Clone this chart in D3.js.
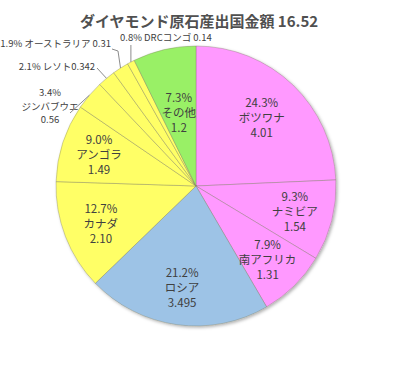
<!DOCTYPE html>
<html>
<head>
<meta charset="utf-8">
<script src="https://cdn.jsdelivr.net/npm/d3@7"></script>
<style>
  body { margin: 0; background: #fff; }
  text { font-family: "Noto Sans CJK JP", "Noto Sans", sans-serif; fill: #404040; }
</style>
</head>
<body>
<div id="chart"></div>
<script>
// data (clockwise from 12 o'clock)
var names  = ["ボツワナ", "ナミビア", "南アフリカ", "ロシア", "カナダ", "アンゴラ",
              "ジンバブウエ", "レソト", "オーストラリア", "DRCコンゴ", "その他"];
var values = [4.01, 1.54, 1.31, 3.495, 2.10, 1.49, 0.56, 0.342, 0.31, 0.14, 1.2];
var valueLabels = ["4.01", "1.54", "1.31", "3.495", "2.10", "1.49", "0.56", "0.342", "0.31", "0.14", "1.2"];
var colors = ["#ff99ff", "#ff99ff", "#ff99ff", "#9dc3e6", "#ffff66", "#ffff66",
              "#ffff66", "#ffff66", "#ffff66", "#ffff66", "#99f066"];
var title = "ダイヤモンド原石産出国金額 16.52";

var width = 398, height = 384;
var cx = 196, cy = 186, R = 140;

var svg = d3.select("#chart").append("svg")
    .attr("width", width)
    .attr("height", height);

var defs = svg.append("defs");
var f = defs.append("filter").attr("id", "shadow")
    .attr("x", "-10%").attr("y", "-10%").attr("width", "120%").attr("height", "120%");
f.append("feDropShadow").attr("dx", 1.5).attr("dy", 1.5).attr("stdDeviation", 1.5)
    .attr("flood-color", "#000").attr("flood-opacity", 0.3);

svg.append("text")
    .attr("x", 199)
    .attr("y", 27)
    .attr("text-anchor", "middle")
    .style("font-size", "15px")
    .style("font-weight", "bold")
    .style("fill", "#505050")
    .text(title);

var data = names.map(function(n, i) { return {name: n, value: values[i], label: valueLabels[i], color: colors[i]}; });
var total = d3.sum(values);

var pie = d3.pie().sort(null).value(function(d) { return d.value; });
var arc = d3.arc().innerRadius(0).outerRadius(R);
var arcs = pie(data);

var g = svg.append("g").attr("transform", "translate(" + cx + "," + cy + ")");

g.append("g").attr("filter", "url(#shadow)")
  .selectAll("path")
  .data(arcs)
  .enter().append("path")
    .attr("d", arc)
    .attr("fill", function(d) { return d.data.color; })
    .attr("stroke", "#7a7a60")
    .attr("stroke-opacity", 0.45)
    .attr("stroke-width", 0.8);

function pct(d) { return d3.format(".1f")(100 * d.value / total) + "%"; }

// inside labels (big slices)
var labelRadius = {"ボツワナ": 95, "その他": 76};
var inside = arcs.filter(function(d) { return d.data.value / total > 0.05; });

inside.forEach(function(d) {
    var a = (d.startAngle + d.endAngle) / 2;
    var r = labelRadius[d.data.name] || 102;
    var x = r * Math.sin(a), y = -r * Math.cos(a);
    var t = g.append("text")
        .attr("text-anchor", "middle")
        .style("font-size", "11.5px");
    [pct(d.data), d.data.name, d.data.label].forEach(function(s, k) {
        t.append("tspan")
            .attr("x", x)
            .attr("y", y - 10 + k * 15)
            .text(s);
    });
});

// outside labels with leader lines (small slices)
function edge(d) {
    var a = (d.startAngle + d.endAngle) / 2;
    return [R * Math.sin(a), -R * Math.cos(a)];
}
var small = arcs.filter(function(d) { return d.data.value / total <= 0.05; });

small.forEach(function(d) {
    var e = edge(d);
    var name = d.data.name, t, pts;
    if (name === "ジンバブウエ") {
        t = g.append("text").attr("text-anchor", "middle").style("font-size", "9.5px");
        [pct(d.data), name, d.data.label].forEach(function(s, k) {
            t.append("tspan").attr("x", -146).attr("y", -90 + k * 13.5).text(s);
        });
        pts = [[-126, -73], e];
    } else if (name === "レソト") {
        t = g.append("text").attr("text-anchor", "end").attr("x", -101).attr("y", -116)
            .style("font-size", "9.5px")
            .text(pct(d.data) + " " + name + d.data.label);
        pts = [[-99, -118], e];
    } else if (name === "オーストラリア") {
        t = g.append("text").attr("text-anchor", "end").attr("x", -85).attr("y", -139)
            .style("font-size", "9.5px")
            .text(pct(d.data) + " " + name + " " + d.data.label);
        pts = [[-84, -137], [-78, -135], e];
    } else {
        t = g.append("text").attr("text-anchor", "start").attr("x", -76).attr("y", -145)
            .style("font-size", "9.5px")
            .text(pct(d.data) + " " + name + " " + d.data.label);
        pts = [[e[0], -141], e];
    }
    g.append("path")
        .attr("d", d3.line()(pts))
        .attr("fill", "none")
        .attr("stroke", "#8c8c8c")
        .attr("stroke-width", 1);
});
</script>
</body>
</html>
